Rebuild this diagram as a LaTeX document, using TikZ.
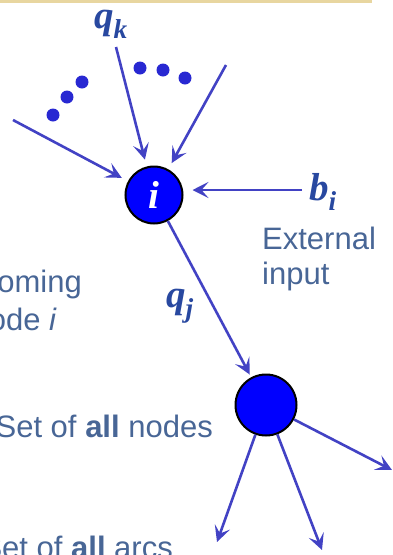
\documentclass[tikz,border=0pt]{standalone}
\usepackage{fontspec}
\setmainfont{Liberation Sans}
\newfontfamily\labelserif{Liberation Serif}
\usetikzlibrary{arrows.meta}
\newcommand{\slidefont}{\fontsize{31}{35}\selectfont}
\newcommand{\varfont}{\labelserif\bfseries\itshape\fontsize{39}{39}\selectfont}
\begin{document}
\begin{tikzpicture}[x=1pt, y=-1pt,
  every node/.style={font=\slidefont, text=textblue},
  vertex/.style={circle, draw=black, line width=2pt, fill=nodeblue, inner sep=0pt},
  arc/.style={draw=arcblue, line width=2.6pt, -{Stealth[length=16pt, width=16pt, inset=7pt]}},
  inflow/.style={arc, shorten >=7pt},
  varlabel/.style={font=\varfont, text=labelblue, inner sep=0pt}]
\definecolor{textblue}{RGB}{72,102,150}
\definecolor{labelblue}{RGB}{40,72,160}
\definecolor{arcblue}{RGB}{66,66,196}
\definecolor{nodeblue}{RGB}{0,0,255}
\definecolor{dotblue}{RGB}{40,40,210}
\definecolor{bandyellow}{RGB}{232,214,160}
\useasboundingbox (0,0) rectangle (393,555);
\clip (0,0) rectangle (393,555);
% Slide band at the top
\fill[bandyellow] (0,0) rectangle (372,3);
% Nodes
\node[vertex, minimum size=57pt] (i) at (154,195) {\varfont\color{white}i};
\node[vertex, minimum size=61pt] (j) at (266,405) {};
% Free ends of the arcs
\coordinate (qkStart) at (116,47);
\coordinate (rightStart) at (226,65);
\coordinate (leftStart) at (13,120);
\coordinate (biStart) at (302,190);
\coordinate (outR) at (392,470);
\coordinate (outL) at (217,542);
\coordinate (outM) at (322,550);
% Incoming arcs
\foreach \c in {qkStart, rightStart, leftStart}
  \draw[inflow] (\c) -- (i);
\draw[arc, shorten >=9pt] (biStart) -- (i.east |- biStart);
% Arc from i to the next node
\draw[arc, shorten >=3pt] (i) -- (j);
% Outgoing arcs
\foreach \c in {outR, outL, outM}
  \draw[arc] (j) -- (\c);
% Dots for omitted arcs
\foreach \x/\y in {53/115, 67/97, 82/82, 140/68, 163/70, 185/78}
  \fill[dotblue] (\x,\y) circle (6.5);
% Labels
\node[varlabel] (qk) at (111,24) {q\textsubscript{k}};
\node[varlabel] (bi) at (323,192) {b\textsubscript{i}};
\node[varlabel] (qj) at (180,306) {q\textsubscript{j}};
\node[anchor=north west, align=left, inner sep=0pt] (ext) at (262,227) {External\\input};
\node[anchor=base east, inner sep=0pt] (inc1) at (82,292) {Incoming};
\node[anchor=base east, inner sep=0pt] (inc2) at (57,330) {node \textit{i}};
\node[anchor=base east, inner sep=0pt] (allN) at (213,437) {Set of \textbf{all} nodes};
\node[anchor=base east, inner sep=0pt] (allA) at (173,558) {Set of \textbf{all} arcs};
\end{tikzpicture}
\end{document}
